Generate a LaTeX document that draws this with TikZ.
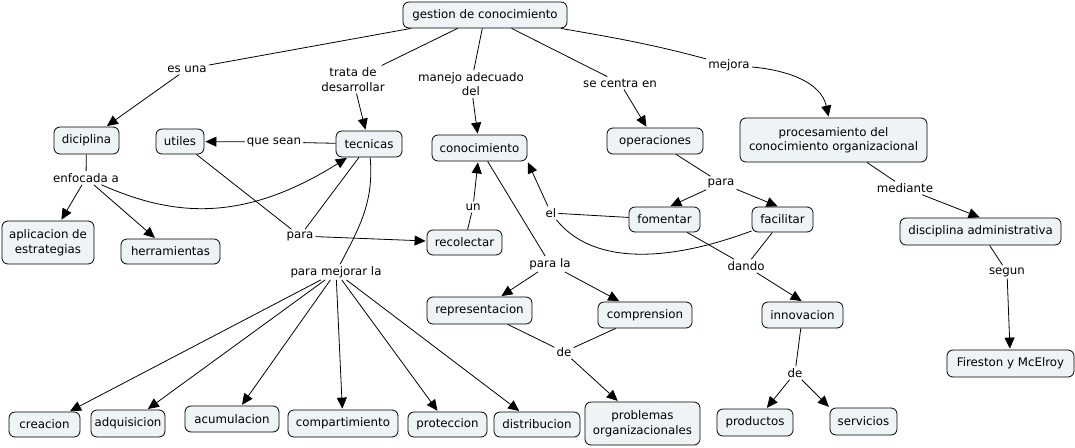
\documentclass[tikz,border=0pt]{standalone}
\usepackage{fontspec}
\setmainfont{DejaVu Sans}
\usetikzlibrary{arrows.meta}
\definecolor{boxfill}{RGB}{238,243,245}
\newcommand\mapfont{\fontsize{11.8}{14.5}\selectfont}
\begin{document}
\begin{tikzpicture}[x=1pt,y=1pt,
  concept/.style={draw=black, line width=0.8pt, fill=boxfill, rounded corners=6pt, align=center, inner sep=0pt, font=\mapfont},
  lab/.style={inner sep=2pt, align=center, font=\mapfont},
  link/.style={line width=0.8pt},
  arr/.style={line width=0.8pt, -{Triangle[length=11pt,width=10pt]}, shorten >=1pt}]
\useasboundingbox (0,0) rectangle (1075,-447);
\fill[white] (0,0) rectangle (1075,-447);

% concepts
\node[concept,minimum width=164pt,minimum height=26pt] (gestion) at (485,-15) {gestion de conocimiento};
\node[concept,minimum width=65pt,minimum height=27pt] (diciplina) at (86.5,-140.5) {diciplina};
\node[concept,minimum width=48pt,minimum height=25pt] (utiles) at (180,-141.5) {utiles};
\node[concept,minimum width=66pt,minimum height=26pt] (tecnicas) at (369,-144) {tecnicas};
\node[concept,minimum width=95pt,minimum height=26pt] (conoc) at (479.5,-148) {conocimiento};
\node[concept,minimum width=96pt,minimum height=26pt] (operac) at (655,-141) {operaciones};
\node[concept,minimum width=187pt,minimum height=44pt] (proces) at (833.5,-140) {procesamiento del\\conocimiento organizacional};
\node[concept,minimum width=92pt,minimum height=43pt] (aplic) at (48,-242.5) {aplicacion de\\estrategias};
\node[concept,minimum width=99pt,minimum height=25pt] (herram) at (170.5,-251.5) {herramientas};
\node[concept,minimum width=75pt,minimum height=25pt] (recol) at (464.5,-242.5) {recolectar};
\node[concept,minimum width=71pt,minimum height=25pt] (foment) at (664.5,-219.5) {fomentar};
\node[concept,minimum width=61pt,minimum height=25pt] (facil) at (782.5,-219.5) {facilitar};
\node[concept,minimum width=161pt,minimum height=27pt] (discadm) at (980.5,-231.5) {disciplina administrativa};
\node[concept,minimum width=105pt,minimum height=27pt] (repres) at (479.5,-310.5) {representacion};
\node[concept,minimum width=94pt,minimum height=26pt] (compren) at (645,-315) {comprension};
\node[concept,minimum width=81pt,minimum height=26pt] (innov) at (802.5,-315) {innovacion};
\node[concept,minimum width=127pt,minimum height=27pt] (fireston) at (1010.5,-363.5) {Fireston y McElroy};
\node[concept,minimum width=71pt,minimum height=25pt] (creacion) at (44.5,-424.5) {creacion};
\node[concept,minimum width=74pt,minimum height=27pt] (adquis) at (128,-423.5) {adquisicion};
\node[concept,minimum width=94pt,minimum height=26pt] (acumul) at (232,-419) {acumulacion};
\node[concept,minimum width=110pt,minimum height=27pt] (compart) at (343,-423.5) {compartimiento};
\node[concept,minimum width=79pt,minimum height=25pt] (protec) at (447.5,-424.5) {proteccion};
\node[concept,minimum width=86pt,minimum height=25pt] (distrib) at (537,-424.5) {distribucion};
\node[concept,minimum width=115pt,minimum height=43pt] (problem) at (642.5,-423.5) {problemas\\organizacionales};
\node[concept,minimum width=76pt,minimum height=27pt] (product) at (755,-422.5) {productos};
\node[concept,minimum width=67pt,minimum height=27pt] (servic) at (863.5,-421.5) {servicios};

% linking phrases
\node[lab] (esuna) at (187,-69) {es una};
\node[lab] (trata) at (353,-79.5) {trata de\\desarrollar};
\node[lab] (manejo) at (471,-84) {manejo adecuado\\del};
\node[lab] (centra) at (620,-83) {se centra en};
\node[lab] (mejora) at (729,-65) {mejora};
\node[lab] (enfoc) at (86,-178) {enfocada a};
\node[lab] (quesean) at (274,-142) {que sean};
\node[lab] (paraA) at (300,-236) {para};
\node[lab] (pml) at (336,-272) {para mejorar la};
\node[lab] (un) at (473,-207) {un};
\node[lab] (el) at (551,-213) {el};
\node[lab] (paraB) at (721,-183) {para};
\node[lab] (parala) at (550,-264) {para la};
\node[lab] (dando) at (746,-266) {dando};
\node[lab] (mediante) at (905,-188) {mediante};
\node[lab] (segun) at (1007,-272) {segun};
\node[lab] (deA) at (564,-352) {de};
\node[lab] (deB) at (795,-373) {de};

% connections
\draw[link] (gestion) -- (esuna);
\draw[arr] (esuna) -- (diciplina);
\draw[link] (gestion) -- (trata);
\draw[arr] (trata) -- (tecnicas);
\draw[link] (gestion) -- (manejo);
\draw[arr] (manejo) -- (conoc);
\draw[link] (gestion) -- (centra);
\draw[arr] (centra) -- (operac);
\draw[link] (gestion) to[out=-10,in=165] (mejora);
\draw[arr] (mejora) to[out=-5,in=102] (proces);

\draw[link] (diciplina) -- (enfoc);
\draw[arr] (enfoc) -- (aplic);
\draw[arr] (enfoc) -- (herram);
\draw[arr] (enfoc) .. controls (170,-215) and (240,-225) .. (tecnicas);

\draw[link] (tecnicas) -- (quesean);
\draw[arr] (quesean) -- (utiles);
\draw[link] (utiles) -- (paraA);
\draw[link] (tecnicas) -- (paraA);
\draw[arr] (paraA) -- (recol);
\draw[link] (tecnicas) to[out=-85,in=62] (pml);

\draw[arr] (pml) -- (creacion);
\draw[arr] (pml) -- (adquis);
\draw[arr] (pml) -- (acumul);
\draw[arr] (pml) -- (compart);
\draw[arr] (pml) -- (protec);
\draw[arr] (pml) -- (distrib);

\draw[link] (recol) -- (un);
\draw[arr] (un) -- (conoc);
\draw[link] (conoc) -- (parala);
\draw[arr] (parala) -- (repres);
\draw[arr] (parala) -- (compren);
\draw[link] (repres) -- (deA);
\draw[link] (compren) -- (deA);
\draw[arr] (deA) -- (problem);

\draw[link] (operac) -- (paraB);
\draw[arr] (paraB) -- ([xshift=5pt]foment.north);
\draw[arr] (paraB) -- ([xshift=-4pt]facil.north);
\draw[link] (foment) -- (el);
\draw[arr] (el) -- (conoc.south east);
\draw[link] (facil) .. controls (660,-265) and (590,-262) .. (el);
\draw[link] (foment) -- (dando);
\draw[link] (facil) -- (dando);
\draw[arr] (dando) -- (innov.north);
\draw[link] (innov) -- (deB);
\draw[arr] (deB) -- (product);
\draw[arr] (deB) -- (servic.north west);

\draw[link] (proces) -- (mediante);
\draw[arr] (mediante) -- (discadm.north);
\draw[link] (discadm) -- (segun);
\draw[arr] (segun) -- (fireston);
\end{tikzpicture}
\end{document}
